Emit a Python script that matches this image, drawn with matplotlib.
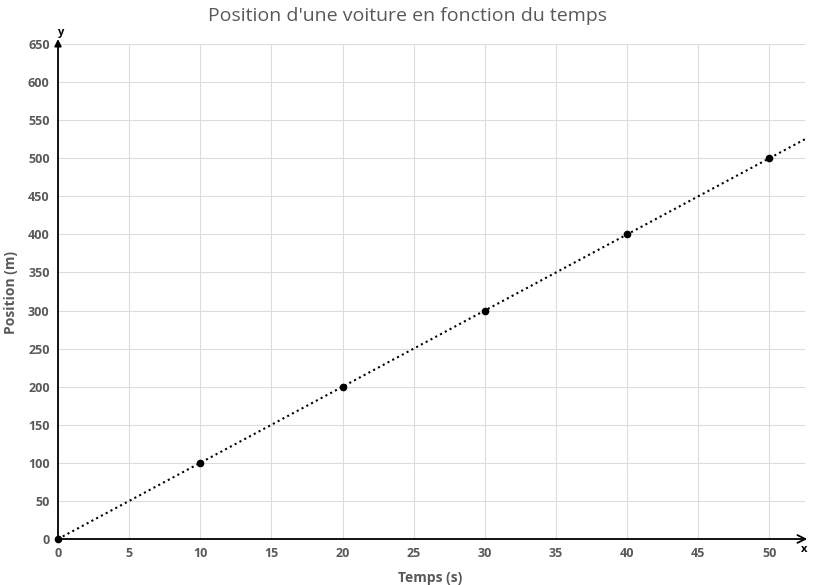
import matplotlib
matplotlib.use('Agg')
import matplotlib.pyplot as plt
import numpy as np

# data
temps = [0, 10, 20, 30, 40, 50]
position = [0, 100, 200, 300, 400, 500]
x_ticks = [0, 5, 10, 15, 20, 25, 30, 35, 40, 45, 50]
y_ticks = list(range(0, 651, 50))

plt.rcParams['font.family'] = ['Open Sans', 'DejaVu Sans']
grey = '#595959'

fig = plt.figure(figsize=(8.15, 5.85), dpi=100)
ax = fig.add_axes([58 / 815, 1 - 539 / 585, (805 - 58) / 815, (539 - 44) / 585])

# linear trendline (dotted) over the whole x range
slope, inter = np.polyfit(temps, position, 1)
xl = np.array([0, 52.5])
ax.plot(xl, slope * xl + inter, color='black', linestyle=(0, (1, 1.6)), linewidth=1.5, zorder=3)
ax.plot(temps, position, 'o', color='black', markersize=4.5, zorder=4, clip_on=False)

ax.set_xlim(0, 52.5)
ax.set_ylim(0, 650)
ax.set_xticks(x_ticks)
ax.set_yticks(y_ticks)
ax.grid(True, color='#dcdcdc', linewidth=0.8)
ax.set_axisbelow(True)
for s in ['top', 'right', 'left', 'bottom']:
    ax.spines[s].set_visible(False)
ax.tick_params(length=0, labelsize=9, labelcolor=grey, pad=6)
for lab in ax.get_xticklabels() + ax.get_yticklabels():
    lab.set_fontweight('bold')

# axis arrows
ax.annotate('', xy=(1.003, 0), xycoords='axes fraction', xytext=(0, 0),
            arrowprops=dict(arrowstyle='->', color='black', lw=1.3, shrinkA=0, shrinkB=0,
                            mutation_scale=14), annotation_clip=False)
ax.annotate('', xy=(0, 1.01), xycoords='axes fraction', xytext=(0, 0),
            arrowprops=dict(arrowstyle='-|>', color='black', lw=1.3, shrinkA=0, shrinkB=0,
                            mutation_scale=10), annotation_clip=False)
fig.text(804 / 815, 1 - 549 / 585, 'x', ha='center', va='center', fontsize=8, fontweight='bold')
fig.text(61 / 815, 1 - 33 / 585, 'y', ha='center', va='center', fontsize=8, fontweight='bold')

fig.text(0.5, 1 - 16 / 585, "Position d'une voiture en fonction du temps", ha='center', va='center',
         fontsize=14, color=grey)
fig.text(430 / 815, 1 - 578 / 585, 'Temps (s)', ha='center', va='center', fontsize=10,
         fontweight='bold', color=grey)
fig.text(11 / 815, 1 - 292 / 585, 'Position (m)', ha='center', va='center', fontsize=10,
         fontweight='bold', color=grey, rotation=90)

fig.savefig('out.png', dpi=100)
